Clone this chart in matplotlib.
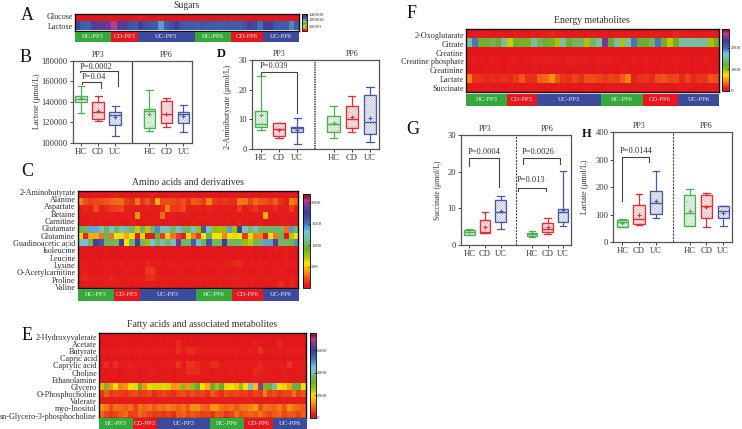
import numpy as np
import matplotlib
matplotlib.use('Agg')
import matplotlib.pyplot as plt
from matplotlib.colors import LinearSegmentedColormap
from matplotlib.patches import Rectangle

plt.rcParams['font.family'] = ['Liberation Serif', 'DejaVu Serif']
plt.rcParams['hatch.linewidth'] = 0.3
plt.rcParams['axes.linewidth'] = 0.8

W, H = 742, 429
TXT = '#333333'
GREEN, RED, BLUE = '#4cb050', '#ea2b33', '#4858a5'
PALE = {GREEN: '#a5d8a7', RED: '#f5a0a4', BLUE: '#a8afd6'}

groups = ['HC-PP3', 'CD-PP3', 'UC-PP3', 'HC-PP6', 'CD-PP6', 'UC-PP6']
group_sizes = [7, 5, 11, 7, 6, 7]
group_colors = ['#36a83c', '#e8171f', '#3c4a9b', '#36a83c', '#e8171f', '#3c4a9b']

# panel A
sugar_names = ['Glucose', 'Lactose']
glucose = [14000, 15000, 14000, 15000, 15000, 14000, 15000, 15000, 14000, 15000,
           15000, 16000, 17000, 15000, 14000, 15000, 16000, 15000, 14000, 15000,
           15000, 14000, 15000, 14000, 15000, 15000, 14000, 15000, 16000, 15000,
           15000, 14000, 15000, 15000, 14000, 15000, 15000, 14000, 15000, 15000,
           14000, 15000, 14000]
lactose = [120000, 112000, 110000, 126000, 128000, 127000, 130000, 140000, 127000, 126000,
           115000, 113000, 124000, 116000, 114000, 113000, 101000, 112000, 116000, 122000,
           114000, 112000, 113000, 111000, 114000, 112000, 113000, 112000, 111000, 113000,
           112000, 112000, 114000, 126000, 118000, 108000, 122000, 124000, 113000, 112000,
           112000, 104000, 112000]

# panel C
amino_names = ['2-Aminobutyrate', 'Alanine', 'Aspartate', 'Betaine', 'Carnitine', 'Glutamate',
               'Glutamine', 'Guadinoacetic acid', 'Isoleucine', 'Leucine', 'Lysine',
               'O-Acetylcarnitine', 'Proline', 'Valine']
abu = [30, 40, 30, 50, 40, 30, 50, 60, 40, 30, 40, 50, 30, 40, 60, 50, 40, 30, 50, 40, 30, 40, 50, 30, 40, 30, 50, 40, 30, 40, 50, 40, 30, 50, 40, 30, 40, 30, 50, 40, 30, 40, 50]
alanine = [330, 210, 170, 190, 200, 230, 250, 290, 280, 170, 130, 300, 140, 220, 120, 430, 190, 200, 190, 170, 210, 130, 240, 220, 170, 340, 170, 130, 160, 130, 120, 310, 300, 180, 270, 220, 210, 170, 240, 130, 70, 320, 250]
aspartate = [60, 110, 70, 200, 80, 120, 160, 170, 190, 100, 70, 80, 60, 100, 60, 80, 120, 330, 150, 160, 190, 90, 80, 100, 70, 110, 90, 60, 90, 80, 60, 170, 70, 110, 150, 100, 90, 60, 120, 70, 70, 170, 80]
betaine = [50, 70, 60, 90, 70, 60, 80, 50, 60, 70, 60, 370, 60, 50, 80, 70, 270, 60, 60, 50, 70, 60, 50, 60, 70, 60, 50, 60, 70, 50, 60, 50, 60, 70, 60, 50, 440, 60, 50, 60, 70, 50, 60]
carnitine = [40, 50, 70, 40, 60, 50, 40, 70, 50, 40, 60, 50, 40, 50, 60, 70, 40, 50, 60, 40, 50, 40, 60, 50, 40, 60, 70, 50, 40, 60, 50, 100, 60, 40, 50, 60, 40, 50, 40, 60, 50, 40, 50]
glutamate = [1000, 1020, 1380, 1370, 1200, 1000, 1290, 1030, 1220, 1120, 1060, 680, 1020, 700, 1040, 1450, 1220, 1230, 1050, 1280, 1040, 1030, 1250, 760, 1600, 1220, 780, 760, 770, 1400, 760, 1720, 1240, 1050, 1230, 1020, 1010, 1010, 1020, 1030, 290, 1420, 1040]
glutamine = [520, 110, 430, 430, 300, 1000, 300, 560, 540, 420, 560, 40, 620, 40, 50, 900, 160, 520, 300, 170, 60, 540, 320, 170, 560, 980, 560, 560, 340, 560, 600, 580, 150, 540, 320, 340, 60, 560, 320, 1000, 50, 700, 580]
guanidino = [1250, 1300, 1020, 1800, 1600, 1000, 1010, 1030, 1790, 560, 1040, 1720, 1030, 760, 1300, 1030, 1220, 1040, 1220, 1880, 1020, 1030, 1560, 1240, 1010, 1620, 1030, 1020, 1760, 1020, 1010, 1030, 780, 700, 1020, 1030, 1400, 1400, 1830, 1020, 1030, 1010, 1430]
isoleucine = [30, 40, 30, 40, 30, 40, 30, 30, 40, 30, 40, 30, 40, 30, 40, 30, 30, 40, 30, 40, 30, 40, 30, 30, 40, 30, 40, 30, 40, 30, 40, 30, 30, 40, 30, 40, 30, 40, 60, 50, 70, 40, 30]
leucine = [40, 30, 40, 50, 30, 40, 30, 40, 30, 50, 40, 30, 40, 30, 50, 40, 30, 40, 30, 40, 50, 30, 40, 30, 40, 30, 40, 50, 30, 40, 30, 40, 50, 40, 30, 40, 30, 50, 40, 30, 60, 40, 30]
lysine = [60, 70, 50, 60, 50, 60, 70, 50, 60, 50, 60, 50, 70, 110, 90, 60, 50, 70, 60, 50, 60, 70, 50, 60, 50, 60, 70, 50, 60, 100, 110, 120, 70, 60, 50, 60, 70, 50, 60, 50, 70, 60, 50]
acetylcarn = [50, 60, 50, 40, 50, 60, 50, 40, 50, 60, 50, 40, 50, 150, 160, 60, 50, 40, 50, 60, 50, 40, 50, 60, 50, 40, 50, 60, 50, 40, 50, 60, 50, 40, 50, 60, 50, 40, 50, 60, 50, 40, 50]
proline = [80, 110, 90, 70, 80, 90, 110, 80, 70, 90, 80, 70, 90, 120, 130, 80, 70, 90, 80, 70, 90, 80, 100, 70, 80, 90, 70, 80, 90, 70, 80, 100, 70, 80, 90, 70, 80, 90, 70, 80, 90, 100, 70]
valine = [50, 60, 50, 70, 60, 70, 90, 80, 70, 60, 50, 60, 50, 70, 60, 50, 90, 70, 60, 50, 60, 70, 50, 60, 50, 70, 60, 80, 50, 60, 70, 90, 70, 60, 50, 60, 50, 70, 60, 120, 70, 110, 60]

# panel E
fatty_names = ['2-Hydroxyvalerate', 'Acetate', 'Butyrate', 'Capric acid', 'Caprylic acid', 'Choline',
               'Ethanolamine', 'Glycero', 'O-Phosphocholine', 'Valerate', 'myo-Inositol',
               'sn-Glycero-3-phosphocholine']
hydroxyval = [80, 90, 80, 70, 90, 80, 70, 80, 90, 80, 70, 90, 80, 70, 80, 90, 80, 70, 80, 90, 70, 80, 90, 80, 70, 80, 90, 70, 80, 90, 80, 70, 90, 80, 70, 80, 90, 80, 70, 80, 90, 70, 80]
acetate = [100, 120, 110, 130, 100, 120, 110, 100, 130, 120, 110, 140, 120, 110, 130, 100, 420, 130, 110, 120, 140, 120, 110, 130, 100, 120, 110, 130, 140, 110, 120, 100, 320, 130, 120, 110, 100, 380, 120, 130, 110, 120, 100]
butyrate = [170, 150, 220, 180, 260, 240, 180, 300, 210, 170, 190, 240, 260, 210, 180, 170, 450, 240, 420, 420, 350, 220, 280, 180, 260, 320, 210, 240, 230, 200, 190, 260, 220, 480, 250, 200, 220, 230, 260, 280, 210, 240, 200]
capric = [120, 100, 130, 110, 120, 100, 110, 130, 120, 110, 100, 120, 130, 110, 100, 130, 120, 110, 130, 120, 110, 100, 120, 130, 110, 100, 120, 110, 130, 120, 100, 110, 120, 130, 110, 100, 120, 130, 110, 100, 120, 110, 130]
caprylic = [190, 420, 150, 450, 230, 200, 340, 220, 180, 160, 220, 200, 170, 240, 230, 210, 480, 190, 480, 470, 380, 220, 240, 440, 420, 210, 300, 200, 190, 260, 180, 220, 210, 380, 210, 200, 250, 270, 240, 470, 220, 200, 180]
choline = [150, 130, 170, 150, 130, 160, 240, 220, 170, 150, 300, 190, 170, 150, 160, 140, 230, 170, 420, 440, 430, 190, 210, 170, 160, 250, 170, 320, 180, 160, 210, 170, 390, 380, 240, 180, 170, 200, 220, 180, 160, 220, 170]
ethanolamine = [170, 160, 130, 150, 170, 140, 160, 150, 130, 170, 160, 150, 130, 230, 220, 170, 200, 180, 150, 170, 160, 150, 170, 160, 150, 200, 160, 150, 170, 180, 150, 170, 180, 170, 150, 160, 170, 150, 180, 160, 170, 150, 160]
glycero = [1500, 2900, 1300, 2000, 1200, 1300, 1900, 2100, 3100, 1300, 2100, 2200, 2200, 2100, 2200, 1300, 1400, 2800, 1300, 2700, 3200, 1900, 1500, 3200, 2500, 3200, 2100, 2000, 1700, 2700, 1900, 4300, 1700, 6700, 2900, 3300, 3900, 1900, 1800, 1400, 3300, 3300, 2000]
ophospho = [500, 800, 520, 640, 560, 480, 620, 700, 520, 560, 660, 420, 580, 650, 520, 460, 650, 720, 520, 680, 560, 620, 420, 780, 620, 440, 720, 560, 640, 520, 580, 460, 620, 540, 1100, 560, 680, 520, 640, 620, 940, 600, 780]
valerate = [220, 260, 240, 210, 250, 220, 240, 210, 260, 240, 220, 250, 230, 260, 240, 210, 250, 220, 240, 220, 260, 240, 210, 230, 250, 220, 260, 300, 240, 220, 290, 340, 220, 240, 260, 220, 240, 210, 250, 230, 260, 240, 220]
myoinositol = [1300, 1100, 680, 1000, 950, 870, 1020, 600, 1050, 900, 1050, 820, 1000, 950, 1100, 1000, 880, 1000, 800, 1280, 1250, 950, 850, 1300, 1320, 1020, 900, 1000, 820, 1000, 1050, 1150, 1400, 700, 1050, 950, 900, 1100, 820, 1250, 1000, 900, 850]
snglycero = [900, 640, 520, 620, 800, 950, 560, 620, 950, 780, 620, 500, 560, 480, 620, 420, 800, 880, 620, 780, 680, 560, 620, 480, 820, 720, 480, 620, 1000, 680, 820, 900, 820, 1000, 780, 620, 820, 900, 620, 800, 780, 620, 880]

# panel F
energy_names = ['2-Oxoglutarate', 'Citrate', 'Creatine', 'Creatine phosphate', 'Creatinine', 'Lactate', 'Succinate']
oxoglutarate = [60, 80, 70, 90, 60, 70, 80, 60, 90, 70, 60, 80, 70, 130, 140, 90, 80, 70, 90, 110, 70, 80, 60, 90, 70, 80, 60, 70, 80, 60, 70, 90, 80, 60, 70, 140, 120, 90, 70, 60, 80, 70, 60]
citrate = [1500, 1950, 1180, 1180, 1300, 1200, 1480, 880, 1180, 1170, 1160, 1480, 1320, 1190, 1150, 950, 1500, 1200, 1350, 1330, 950, 1350, 1500, 2500, 1200, 1500, 950, 1500, 1950, 1200, 1190, 1320, 1950, 1170, 900, 1180, 1500, 1520, 1500, 1500, 1460, 950, 1170]
creatine = [30, 40, 30, 35, 30, 40, 30, 35, 40, 30, 35, 30, 40, 30, 35, 30, 40, 35, 30, 40, 30, 35, 30, 40, 30, 35, 40, 30, 35, 30, 40, 30, 35, 30, 40, 35, 30, 40, 30, 35, 30, 40, 30]
creatine_p = [60, 70, 60, 50, 70, 60, 50, 60, 70, 50, 60, 70, 100, 120, 110, 70, 60, 130, 120, 70, 70, 60, 70, 80, 70, 60, 50, 60, 70, 60, 70, 60, 50, 70, 60, 80, 60, 70, 50, 60, 70, 60, 50]
creatinine = [50, 40, 50, 60, 40, 50, 40, 60, 50, 40, 50, 60, 40, 50, 60, 40, 50, 40, 60, 50, 40, 50, 60, 40, 50, 40, 60, 50, 40, 50, 60, 40, 50, 60, 40, 50, 40, 60, 50, 40, 50, 60, 40]
lactate = [440, 180, 170, 140, 160, 140, 170, 150, 190, 300, 170, 160, 330, 360, 470, 280, 190, 170, 240, 170, 270, 260, 240, 190, 240, 220, 320, 440, 130, 170, 180, 150, 260, 280, 230, 250, 150, 240, 150, 200, 180, 300, 260]
succinate = [50, 60, 50, 70, 50, 60, 50, 70, 60, 50, 60, 70, 50, 60, 50, 70, 60, 50, 60, 50, 70, 60, 50, 60, 70, 50, 60, 50, 70, 60, 50, 60, 70, 50, 60, 50, 70, 60, 50, 60, 50, 70, 60]

# box stats: whislo, q1, med, q3, whishi, mean  (HC, CD, UC) for PP3 then PP6
box_names = ['HC', 'CD', 'UC', 'HC', 'CD', 'UC']
box_pos = [1, 2, 3, 5, 6, 7]
lactose_box = [[129400, 140000, 142600, 146100, 155800, 143500],
               [121600, 123200, 130600, 140300, 146100, 131300],
               [106800, 117700, 126800, 130600, 135500, 124800],
               [111300, 114200, 131300, 133500, 151600, 128400],
               [115200, 119000, 128100, 140600, 144200, 128500],
               [110700, 119700, 128400, 130600, 137100, 126000]]
abu_box = [[6.4, 7.4, 8.3, 12.9, 24.7, 11.3],
           [3.6, 4.4, 6.7, 8.8, 8.9, 6.5],
           [1.6, 5.6, 7.0, 7.5, 10.4, 6.3],
           [3.8, 5.6, 8.3, 11.2, 14.6, 8.8],
           [5.6, 7.0, 10.2, 14.4, 17.9, 10.7],
           [2.2, 4.9, 9.2, 18.2, 20.9, 10.3]]
succ_box = [[2.7, 2.8, 3.55, 4.0, 4.4, 3.5],
            [3.2, 3.3, 3.6, 6.7, 9.1, 4.8],
            [4.4, 6.3, 8.9, 12.3, 13.5, 9.2],
            [2.3, 2.4, 3.0, 3.4, 3.9, 3.0],
            [2.9, 3.6, 4.3, 6.0, 7.5, 4.9],
            [5.3, 6.4, 9.0, 9.9, 20.3, 9.6]]
lact_box = [[57, 57, 74, 82, 86, 70],
            [63, 68, 84, 137, 176, 101],
            [87, 102, 144, 188, 259, 152],
            [58, 58, 105, 171, 193, 114],
            [57, 90, 131, 173, 181, 128],
            [61, 87, 115, 132, 133, 108]]

# significance: x1, x2, y, left end, right end, label, label x, label y
lactose_sig = [(0.95, 3.16, 170300, 168700, 155200, 'P=0.0002', 1.88, 174200),
               (1.08, 2.16, 159000, 157400, 153900, 'P=0.04', 1.76, 164200)]
abu_sig = [(1.0, 3.0, 26.0, 25.0, 12.2, 'P=0.039', 1.7, 27.9)]
succ_sig = [(1.0, 2.87, 23.8, 21.6, 15.7, 'P=0.0004', 1.93, 25.4),
            (4.44, 6.78, 23.8, 22.2, 22.2, 'P=0.0026', 5.39, 25.4),
            (4.12, 5.9, 15.45, 14.6, 14.6, 'P=0.013', 4.93, 17.7)]
lact_sig = [(1.0, 2.6, 311, 150, 291, 'P=0.0144', 1.8, 333)]

heat = LinearSegmentedColormap.from_list('heat', [
    (0.0, '#e3141b'), (0.04, '#e5201b'), (0.16, '#f58a14'), (0.26, '#fde500'), (0.33, '#a8c40a'),
    (0.42, '#6aad31'), (0.52, '#79bf9a'), (0.60, '#70c5dd'), (0.70, '#3f67b0'),
    (0.80, '#3d3f95'), (0.88, '#7d3a94'), (0.93, '#b83d8c'), (0.97, '#8b1a3a'),
    (1.0, '#b01a20')])


def add_ax(x0, y0, x1, y1):
    # pixel box, y measured from the top
    return fig.add_axes([x0 / W, 1 - y1 / H, (x1 - x0) / W, (y1 - y0) / H])


def ftext(x, y, s, **kw):
    kw.setdefault('color', TXT)
    kw.setdefault('ha', 'center')
    kw.setdefault('va', 'center')
    fig.text(x / W, 1 - y / H, s, **kw)


def heatmap(box, rows, names, ypos, vmin, vmax, cbox, cticks, barbox, lab_fs=5.9):
    ax = add_ax(*box)
    im = ax.imshow(np.array(rows), aspect='auto', cmap=heat, vmin=vmin, vmax=vmax, interpolation='nearest')
    ax.set_xticks([])
    ax.set_yticks(ypos)
    ax.set_yticklabels(names, fontsize=lab_fs, color=TXT)
    ax.tick_params(axis='y', length=0, pad=1.5)
    for s in ax.spines.values():
        s.set_linewidth(1.0)
        s.set_color('#111111')
    cax = add_ax(*cbox)
    cb = fig.colorbar(im, cax=cax)
    cb.set_ticks(cticks)
    cb.ax.tick_params(labelsize=3.6, length=1.2, width=0.4, pad=1, direction='in', labelcolor=TXT)
    cb.outline.set_linewidth(0.6)
    bax = add_ax(*barbox)
    left = 0
    for g, n, c in zip(groups, group_sizes, group_colors):
        bax.barh(0, n, left=left, height=1, color=c)
        bax.text(left + n / 2, 0, g, color='white', ha='center', va='center', fontsize=4.8, alpha=0.9)
        left += n
    bax.set_xlim(0, left)
    bax.set_ylim(-0.5, 0.5)
    bax.axis('off')


def boxes(box, stats, ylim, yticks, ylabels, sig, div_style, xleft):
    ax = add_ax(*box)
    for p, st, c in zip(box_pos, stats, [GREEN, RED, BLUE] * 2):
        d = dict(whislo=st[0], q1=st[1], med=st[2], q3=st[3], whishi=st[4], mean=st[5], fliers=[])
        ax.bxp([d], positions=[p], widths=0.68, capwidths=0.4, patch_artist=True, showmeans=True,
               showfliers=False, manage_ticks=False,
               boxprops=dict(facecolor='white', edgecolor=PALE[c], hatch='x' * 12, linewidth=0.3),
               medianprops=dict(color=c, linewidth=1.0),
               whiskerprops=dict(color=c, linewidth=0.9),
               capprops=dict(color=c, linewidth=0.9),
               meanprops=dict(marker='+', markeredgecolor=c, markersize=3, markeredgewidth=0.8))
        # outline on top, the hatch stays pale
        ax.add_patch(Rectangle((p - 0.34, st[1]), 0.68, st[3] - st[1], fill=False, ec=c, lw=0.9, zorder=3))
    ax.axvline(4, color='#444444', **div_style)
    for x1, x2, y, yl, yr, lab, tx, ty in sig:
        ax.plot([x1, x1, x2, x2], [yl, y, y, yr], color='#444444', lw=0.8)
        ax.text(tx, ty, lab, ha='center', va='center', fontsize=6.0, color=TXT)
    for xp, s in [(2, 'PP3'), (6, 'PP6')]:
        ax.annotate(s, (xp, ylim[1]), xytext=(0, 1.5), textcoords='offset points', ha='center', va='bottom',
                    fontsize=5.8, color=TXT, annotation_clip=False)
    ax.set_xlim(xleft, 7.5)
    ax.set_ylim(*ylim)
    ax.set_xticks(box_pos)
    ax.set_xticklabels(box_names, fontsize=6.1, color=TXT)
    ax.set_yticks(yticks)
    ax.set_yticklabels(ylabels, fontsize=6.1, color=TXT)
    ax.tick_params(length=2, width=0.7, pad=1.5, color='#444444')
    for s in ax.spines.values():
        s.set_color('#555555')
        s.set_linewidth(0.9)
    return ax


fig = plt.figure(figsize=(W / 100, H / 100), dpi=100)

heatmap((75, 13.5, 298.5, 30.5), [glucose, lactose], sugar_names, [-0.15, 0.97], 13000, 150000,
        (301.7, 13.5, 307, 31), [50000, 100000, 140000], (75, 32, 299, 42))
heatmap((77.7, 191, 298.3, 288),
        [abu, alanine, aspartate, betaine, carnitine, glutamate, glutamine, guanidino, isoleucine,
         leucine, lysine, acetylcarn, proline, valine],
        amino_names, np.linspace(-0.4, 13.35, 14), 0, 2190,
        (302.7, 194, 309.8, 288), [500, 1000, 1500, 2000], (78, 289, 299, 301))
heatmap((99, 333.3, 306, 417.7),
        [hydroxyval, acetate, butyrate, capric, caprylic, choline, ethanolamine, glycero, ophospho,
         valerate, myoinositol, snglycero],
        fatty_names, np.linspace(0, 11.2, 12), 0, 7520,
        (309.7, 333, 315.7, 417.5), [0, 2000, 4000, 6000], (99, 418, 307, 429))
heatmap((466, 29.3, 719, 92.3),
        [oxoglutarate, citrate, creatine, creatine_p, creatinine, lactate, succinate],
        energy_names, np.linspace(0.1, 6.05, 7), 0, 2860,
        (721.7, 29, 729, 91), [0, 1000, 2000], (466, 94, 719, 105.7))

boxes((72.5, 60.7, 192, 143), lactose_box, (100000, 180000),
      [100000, 120000, 140000, 160000, 180000], ['100000', '120000', '140000', '160000', '180000'],
      lactose_sig, dict(lw=0.9), 0.5)
boxes((251.7, 60, 379, 149), abu_box, (0, 30), [0, 10, 20, 30], ['0', '10', '20', '30'],
      abu_sig, dict(lw=1.1, ls=(0, (1, 0.6))), 0.49)
boxes((461, 135, 571, 245), succ_box, (0, 30), [0, 10, 20, 30], ['0', '10', '20', '30'],
      succ_sig, dict(lw=0.8, ls=(0, (2, 1))), 0.47)
boxes((613.3, 132.3, 731.7, 242.3), lact_box, (0, 400), [0, 100, 200, 300, 400],
      ['0', '100', '200', '300', '400'], lact_sig, dict(lw=0.8, ls=(0, (2, 1))), 0.47)

ftext(187, 5, 'Sugars', fontsize=6.9)
ftext(188, 182.7, 'Amino acids and derivatives', fontsize=7)
ftext(202, 324.7, 'Fatty acids and associated metabolites', fontsize=7)
ftext(592, 20.7, 'Energy metabolites', fontsize=7)

for x, y, s, fs in [(27, 15, 'A', 13), (26, 57, 'B', 13), (27, 172, 'C', 13), (221.7, 54.3, 'D', 9),
                    (26.7, 335, 'E', 13), (411.7, 14, 'F', 13), (413, 130, 'G', 13), (587, 133.7, 'H', 9)]:
    ftext(x, y, s, fontsize=fs, color='#111111', fontweight='bold' if fs == 9 else 'normal')

ftext(37, 101.7, 'Lactose (\u03bcmol/L)', fontsize=5.8, rotation=90)
ftext(227.7, 107, '2-Aminibutyrate (\u03bcmol/L)', fontsize=5.8, rotation=90)
ftext(438, 190, 'Succinate (\u03bcmol/L)', fontsize=5.5, rotation=90)
ftext(585, 187, 'Lactate (\u03bcmol/L)', fontsize=5.8, rotation=90)

fig.savefig('out.png', dpi=100)
